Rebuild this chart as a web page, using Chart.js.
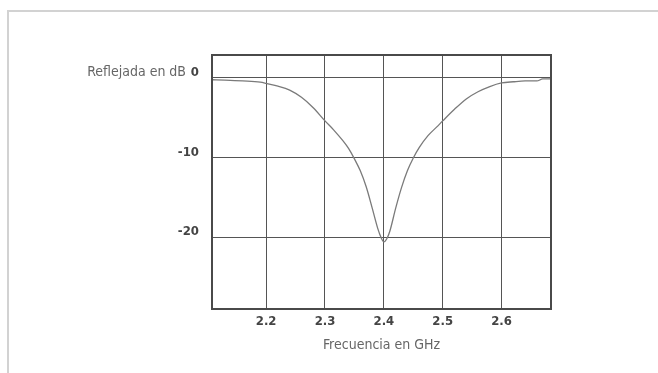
<!DOCTYPE html>
<html>
<head>
<meta charset="utf-8">
<script src="https://cdn.jsdelivr.net/npm/chart.js@4.4.1/dist/chart.umd.min.js"></script>
<style>
  html, body { margin: 0; padding: 0; background: #fff; overflow: hidden; }
  #frame {
    position: absolute; left: 7px; top: 10px; width: 700px; height: 400px;
    border-left: 2px solid #d2d2d2; border-top: 2px solid #d2d2d2;
  }
  #wrap { position: absolute; left: 0; top: 0; width: 658px; height: 373px; }
</style>
</head>
<body>
<div id="frame"></div>
<div id="wrap"><canvas id="myChart" width="658" height="373"></canvas></div>
<script>
'use strict';

// return loss curve, frequency in GHz vs dB
const freqGHz = [2.108, 2.13, 2.16, 2.19, 2.20, 2.22, 2.24, 2.26, 2.28, 2.30,
  2.315, 2.33, 2.34, 2.35, 2.36, 2.37, 2.38, 2.39, 2.395, 2.40,
  2.405, 2.41, 2.42, 2.43, 2.44, 2.45, 2.46, 2.475, 2.49, 2.50,
  2.52, 2.54, 2.56, 2.58, 2.60, 2.62, 2.64, 2.66, 2.67, 2.684];
const reflDb = [-0.3, -0.35, -0.45, -0.6, -0.75, -1.1, -1.6, -2.5, -3.8, -5.45,
  -6.6, -7.9, -8.9, -10.2, -11.7, -13.7, -16.3, -19.0, -20.0, -20.6,
  -20.2, -19.3, -16.4, -13.8, -11.7, -10.1, -8.8, -7.3, -6.2, -5.45,
  -4.0, -2.7, -1.8, -1.15, -0.7, -0.55, -0.45, -0.45, -0.2, -0.2];

const xTicks = [2.2, 2.3, 2.4, 2.5, 2.6];
const yTicks = [-20, -10, 0];
const yAxisLabel = 'Reflejada en dB';
const xAxisLabel = 'Frecuencia en GHz';

const narrow = '"Liberation Sans Narrow", "DejaVu Sans Condensed", "Roboto", sans-serif';

// heavy frame round the plot area plus the axis caption next to the 0 tick
const boxPlugin = {
  id: 'box',
  afterDatasetsDraw(chart) {
    const { ctx, chartArea: a, scales } = chart;
    ctx.save();
    ctx.strokeStyle = '#4a4a4a';
    ctx.lineWidth = 2;
    ctx.strokeRect(a.left, a.top, a.right - a.left, a.bottom - a.top);

    ctx.fillStyle = '#666';
    ctx.font = '14px ' + narrow;
    ctx.textAlign = 'right';
    ctx.textBaseline = 'middle';
    ctx.fillText(yAxisLabel, a.left - 26, scales.y.getPixelForValue(0) - 5);
    ctx.restore();
  }
};

let ctx = document.getElementById('myChart').getContext('2d');

let myChart = new Chart(ctx, {
  type: 'scatter',
  data: {
    datasets: [{
      data: freqGHz.map((f, i) => ({ x: f, y: reflDb[i] })),
      showLine: true,
      borderColor: '#7a7a7a',
      borderWidth: 1.3,
      pointRadius: 0,
      cubicInterpolationMode: 'monotone',
    }],
  },
  options: {
    responsive: false,
    animation: false,
    layout: { padding: { left: 0, top: 55, right: 107, bottom: 19 } },
    plugins: { legend: { display: false }, tooltip: { enabled: false } },
    scales: {
      x: {
        type: 'linear',
        min: 2.108,
        max: 2.684,
        afterBuildTicks: (scale) => { scale.ticks = xTicks.map(v => ({ value: v })); },
        afterFit: (scale) => { scale.height = 45; },
        grid: { color: '#555', lineWidth: 1, drawTicks: false },
        border: { display: false },
        ticks: {
          padding: 5,
          color: '#444',
          font: { family: narrow, size: 13, weight: 'bold' },
          callback: (v) => v.toFixed(1),
        },
        title: {
          display: true,
          text: xAxisLabel,
          color: '#666',
          font: { family: narrow, size: 14 },
          padding: { top: 4, bottom: 0 },
        },
      },
      y: {
        type: 'linear',
        min: -29,
        max: 2.8,
        afterBuildTicks: (scale) => { scale.ticks = yTicks.map(v => ({ value: v })); },
        afterFit: (scale) => { scale.width = 212; },
        grid: { color: '#555', lineWidth: 1, drawTicks: false },
        border: { display: false },
        ticks: {
          padding: 13,
          labelOffset: -5,
          color: '#444',
          font: { family: narrow, size: 13, weight: 'bold' },
        },
      },
    },
  },
  plugins: [boxPlugin],
});
</script>
</body>
</html>
